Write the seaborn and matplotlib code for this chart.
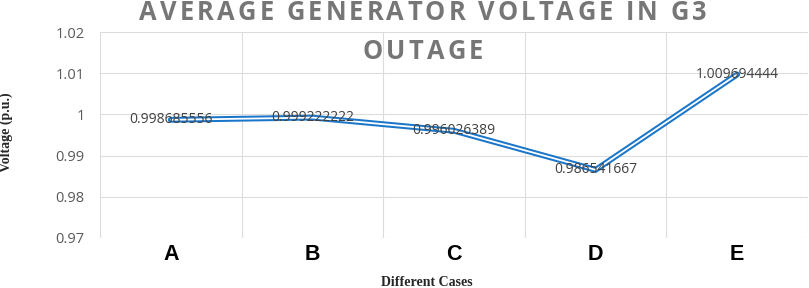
import numpy as np
import pandas as pd
import matplotlib
matplotlib.use("Agg")
import matplotlib.pyplot as plt
from matplotlib.ticker import FixedLocator, FuncFormatter
import seaborn as sns

# chart data
cases = ["A", "B", "C", "D", "E"]
voltage = [0.998685556, 0.999222222, 0.996026389, 0.986541667, 1.009694444]
y_ticks = [0.97, 0.98, 0.99, 1.00, 1.01, 1.02]
title_lines = ["AVERAGE GENERATOR VOLTAGE IN G3", "OUTAGE"]

sns.set_theme(style="white")
plt.rcParams["font.family"] = ["Open Sans", "DejaVu Sans"]

BLUE = "#1a76c9"
GRID = "#dcdcdc"

df = pd.DataFrame({"pos": np.arange(len(cases)), "case": cases, "voltage": voltage})

W, H = 809, 288
fig = plt.figure(figsize=(W / 100, H / 100), dpi=100)
ax = fig.add_axes([100 / W, 1 - 238 / H, 708 / W, (238 - 32) / H])

# double (compound) line: thick blue with thin white core
sns.lineplot(data=df, x="pos", y="voltage", ax=ax, color=BLUE, linewidth=4.2,
             solid_joinstyle="miter", zorder=3)
sns.lineplot(data=df, x="pos", y="voltage", ax=ax, color="white", linewidth=1.3,
             solid_joinstyle="miter", zorder=4)

for _, r in df.iterrows():
    ax.text(r["pos"], r["voltage"], f"{r['voltage']:.9f}", ha="center", va="center",
            fontsize=10, color="#404040", family=["Open Sans", "DejaVu Sans"], zorder=5)

ax.set_xlim(-0.5, len(cases) - 0.5)
ax.set_ylim(y_ticks[0], y_ticks[-1])
ax.yaxis.set_major_locator(FixedLocator(y_ticks))
ax.yaxis.set_major_formatter(FuncFormatter(lambda v, p: f"{round(v, 2):g}"))
ax.set_xticks(df["pos"])
ax.set_xticklabels(cases, fontsize=15.5, fontweight="bold",
                   family=["Liberation Sans", "DejaVu Sans"], color="black")
ax.xaxis.set_minor_locator(FixedLocator(np.arange(-0.5, len(cases), 1.0)))

ax.grid(axis="y", which="major", color=GRID, linewidth=0.8)
ax.grid(axis="x", which="minor", color=GRID, linewidth=0.8)
ax.tick_params(axis="both", which="both", length=0)
ax.tick_params(axis="y", pad=11, labelsize=10.5, labelcolor="#595959")
ax.tick_params(axis="x", pad=4)
for s in ax.spines.values():
    s.set_visible(False)

ax.set_xlabel("")
ax.set_ylabel("")
fig.text(6 / W, 1 - 132 / H, "Voltage (p.u.)", rotation=90, ha="center", va="center",
         fontsize=10, fontweight="bold", family=["Liberation Serif", "DejaVu Serif"])
fig.text(427 / W, 1 - 283 / H, "Different Cases", ha="center", va="center",
         fontsize=10, fontweight="bold", family=["Liberation Serif", "DejaVu Serif"])


def spaced_title(text, xc, yc, spacing, **kw):
    # draw text char by char so that letters get Excel-like extra tracking
    renderer = fig.canvas.get_renderer()
    widths = []
    for ch in text:
        if ch == " ":
            widths.append(kw["fontsize"] * 100 / 72 * 0.26)
            continue
        t = fig.text(0, 0, ch, **kw)
        widths.append(t.get_window_extent(renderer).width)
        t.remove()
    total = sum(widths) + spacing * (len(text) - 1)
    x = xc - total / 2
    for ch, w in zip(text, widths):
        if ch != " ":
            fig.text(x / W, 1 - yc / H, ch, ha="left", va="baseline", **kw)
        x += w + spacing


tkw = dict(fontsize=18.4, fontweight="bold", color="#767676",
           family=["Open Sans", "DejaVu Sans"])
spaced_title(title_lines[0], 423, 20, 3.1, **tkw)
spaced_title(title_lines[1], 423, 59, 3.1, **tkw)

fig.savefig("out.png", dpi=100)
